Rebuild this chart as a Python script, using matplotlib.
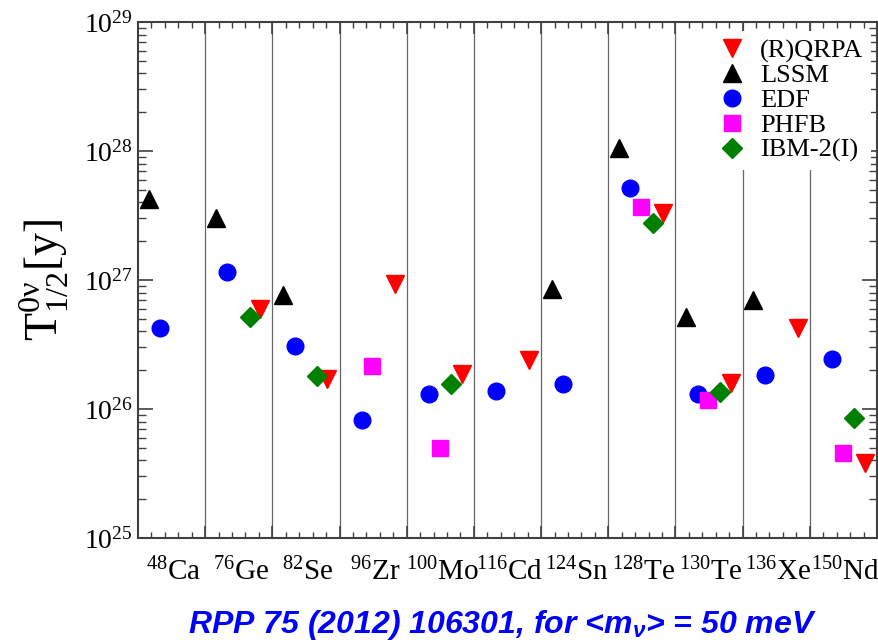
import numpy as np
import matplotlib
matplotlib.use('Agg')
import matplotlib.pyplot as plt
from matplotlib.ticker import LogLocator, MultipleLocator, NullFormatter
import matplotlib.transforms as mtransforms

plt.rcParams['font.family'] = ['Liberation Serif', 'DejaVu Serif']
plt.rcParams['mathtext.fontset'] = 'custom'
plt.rcParams['mathtext.rm'] = 'Liberation Serif'
plt.rcParams['mathtext.it'] = 'Liberation Serif:italic'
plt.rcParams['mathtext.sf'] = 'Liberation Sans:italic:bold'

nan = np.nan
isotopes = [r'$^{48}$Ca', r'$^{76}$Ge', r'$^{82}$Se', r'$^{96}$Zr', r'$^{100}$Mo', r'$^{116}$Cd',
            r'$^{124}$Sn', r'$^{128}$Te', r'$^{130}$Te', r'$^{136}$Xe', r'$^{150}$Nd']

# half-lives in years for <m_nu> = 50 meV
qrpa = [nan, 6.0e26, 1.71e26, 9.3e26, 1.87e26, 2.40e26, nan, 3.29e27, 1.60e26, 4.25e26, 3.8e25]
lssm = [4.25e27, 3.0e27, 7.65e26, nan, nan, nan, 8.5e26, 1.06e28, 5.14e26, 7.0e26, nan]
edf = [4.27e26, 1.15e27, 3.06e26, 8.2e25, 1.30e26, 1.39e26, 1.56e26, 5.14e27, 1.31e26, 1.85e26, 2.44e26]
phfb = [nan, nan, nan, 2.17e26, 4.99e25, nan, nan, 3.70e27, 1.17e26, nan, 4.59e25]
ibm = [nan, 5.2e26, 1.79e26, nan, 1.55e26, nan, nan, 2.75e27, 1.35e26, nan, 8.5e25]

fig = plt.figure(figsize=(8.79, 6.44), dpi=100)
ax = fig.add_axes([0.157, 0.1646, 0.8407, 0.8012])

idx = np.arange(len(isotopes))
for xv in range(1, len(isotopes)):
    ax.axvline(xv, color='0.4', lw=0.9, zorder=1)

ax.plot(idx + 0.82, qrpa, 'v', color='red', ms=13, ls='none', label='(R)QRPA', zorder=3)
ax.plot(idx + 0.16, lssm, '^', color='black', ms=13, ls='none', label='LSSM', zorder=3)
ax.plot(idx + 0.33, edf, 'o', color='blue', ms=12, ls='none', label='EDF', zorder=3)
ax.plot(idx + 0.49, phfb, 's', color='magenta', ms=11, ls='none', label='PHFB', zorder=3)
ax.plot(idx + 0.66, ibm, 'D', color='green', ms=10, ls='none', label='IBM-2(I)', zorder=3)

ax.set_yscale('log')
ax.set_ylim(1e25, 1e29)
ax.set_xlim(0, len(isotopes))
ax.yaxis.set_major_locator(LogLocator(base=10, numticks=10))
ax.yaxis.set_minor_locator(LogLocator(base=10, subs=np.arange(2, 10), numticks=20))
ax.yaxis.set_minor_formatter(NullFormatter())
ax.xaxis.set_major_locator(MultipleLocator(1))
ax.xaxis.set_minor_locator(MultipleLocator(0.2))
ax.set_xticklabels([])

ax.tick_params(axis='both', which='both', direction='in', top=True, right=True, colors='0.25')
ax.tick_params(axis='y', which='major', length=11, width=1.2, labelsize=20, labelcolor='black', pad=4)
ax.tick_params(axis='y', which='minor', length=6, width=1.0)
ax.tick_params(axis='x', which='major', length=8.5, width=1.2)
ax.tick_params(axis='x', which='minor', length=4.5, width=1.0)
for sp in ax.spines.values():
    sp.set_color('0.25')
    sp.set_linewidth(1.5)

trans = mtransforms.blended_transform_factory(ax.transData, ax.transAxes)
for i, lab in enumerate(isotopes):
    ax.text(i + 0.53, -0.038, lab, transform=trans, ha='center', va='top', fontsize=21)

ax.set_ylabel('$\\mathrm{T}^{\\mathrm{0ν}}_{1/2}[\\mathrm{y}]$', fontsize=33)
ax.yaxis.set_label_coords(-0.09, 0.5)

leg = ax.legend(loc='upper right', bbox_to_anchor=(0.992, 0.983), frameon=True, fontsize=19,
                handlelength=1.0, handletextpad=0.55, labelspacing=0.05, borderpad=0.3,
                borderaxespad=0)
leg.get_frame().set_edgecolor('none')
leg.get_frame().set_facecolor('white')
leg.get_frame().set_alpha(1)
leg.set_zorder(5)

fig.text(0.571, 0.017, 'RPP 75 (2012) 106301, for <m$_\\mathsf{ν}$> = 50 meV', color='blue',
         fontsize=23, fontweight='bold', fontstyle='italic', family='Liberation Sans',
         ha='center', va='baseline')

fig.savefig('out.png', dpi=100)
